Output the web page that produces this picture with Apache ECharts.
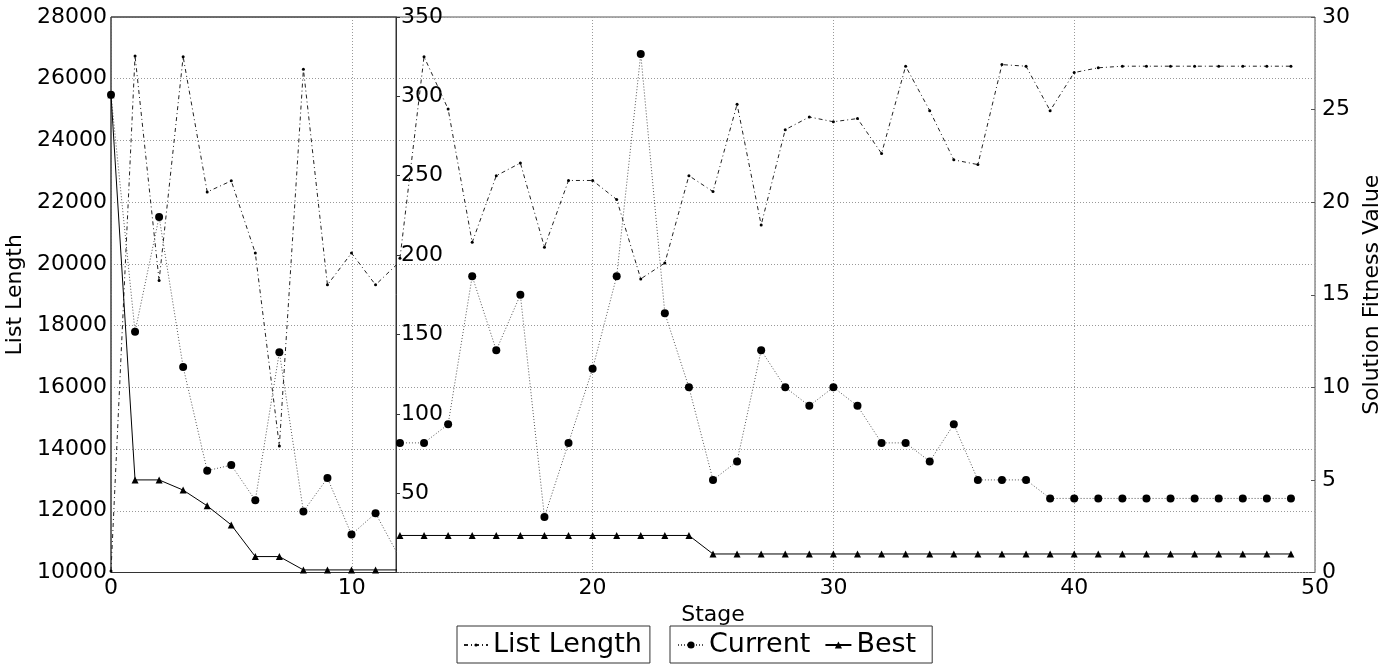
<!DOCTYPE html>
<html>
<head>
<meta charset="utf-8">
<script src="https://cdn.jsdelivr.net/npm/echarts@6/dist/echarts.min.js"></script>
<style>
html,body{margin:0;padding:0;background:#fff;}
#chart{width:1391px;height:667px;}
</style>
</head>
<body>
<div id="chart"></div>
<script>
// ---- data ----
const insetStages = [0,1,2,3,4,5,6,7,8,9,10,11,12];
const insetListLength = [10050,26740,19460,26710,22330,22690,20350,14100,26310,19320,20350,19320,20070];
const insetCurrent = [25.8,13.0,19.2,11.1,5.5,5.8,3.9,11.9,3.3,5.1,2.05,3.2,0.8];
const insetBest = [25.8,5.0,5.0,4.45,3.6,2.57,0.86,0.86,0.14,0.14,0.14,0.14,0.14];

const mainStages = [12,13,14,15,16,17,18,19,20,21,22,23,24,25,26,27,28,29,30,31,32,33,34,35,36,37,38,39,40,41,42,43,44,45,46,47,48,49];
const mainListLength = [198,325,292,208,250,258,205,247,247,235,185,195,250,240,295,219,279,287,284,286,264,319,291,260,257,320,319,291,315,318,319,319,319,319,319,319,319,319];
const mainCurrent = [7,7,8,16,12,15,3,7,11,16,28,14,10,5,6,12,10,9,10,9,7,7,6,8,5,5,5,4,4,4,4,4,4,4,4,4,4,4];
const mainBest = [2,2,2,2,2,2,2,2,2,2,2,2,2,1,1,1,1,1,1,1,1,1,1,1,1,1,1,1,1,1,1,1,1,1,1,1,1,1];

const seriesNames = ['List Length','Current','Best'];
const stageTicks = {min:0, max:50, interval:10};
const listLengthTicks = {min:10000, max:28000, interval:2000};
const innerTicks = {min:0, max:350, interval:50};
const fitnessTicks = {min:0, max:30, interval:5};

// ---- chart ----
const FONT = 'DejaVu Sans';
const pairs = (xs, ys) => xs.map((x,i)=>[x, ys[i]]);
const gridLine = {show:true, lineStyle:{color:'#999', type:[1,2], width:1}};
const plain = v => String(v);
const lbl = {color:'#000', fontSize:22, fontFamily:FONT, formatter:plain};

const styleList = {
  symbol:'circle', symbolSize:3,
  itemStyle:{color:'#000'},
  lineStyle:{color:'#222', width:1, type:[4,3,1,3]}
};
const styleCurrent = {
  symbol:'circle', symbolSize:8,
  itemStyle:{color:'#000'},
  lineStyle:{color:'#555', width:1, type:[1,2]}
};
const styleBest = {
  symbol:'triangle', symbolSize:7,
  itemStyle:{color:'#000'},
  lineStyle:{color:'#000', width:1, type:'solid'}
};

const chart = echarts.init(document.getElementById('chart'), null, {renderer:'canvas'});
chart.setOption({
  animation:false,
  backgroundColor:'#fff',
  textStyle:{fontFamily:FONT},
  grid:[
    {left:111, right:76, top:17, bottom:94.5, containLabel:false, outerBoundsMode:'none',
     show:true, borderColor:'#555', borderWidth:1, backgroundColor:'transparent'},
    {left:111, width:285, top:17, bottom:94.5, containLabel:false, outerBoundsMode:'none',
     show:true, borderColor:'#333', borderWidth:1, backgroundColor:'transparent', z:3}
  ],
  xAxis:[
    {type:'value', gridIndex:0, min:stageTicks.min, max:stageTicks.max, interval:stageTicks.interval,
     name:'Stage', nameLocation:'middle', nameGap:16, nameTextStyle:{color:'#000', fontSize:22, fontFamily:FONT},
     axisLine:{show:false, onZero:false}, axisTick:{show:false},
     axisLabel:Object.assign({margin:5}, lbl), splitLine:gridLine},
    {type:'value', gridIndex:1, min:0, max:11.85, show:false, splitLine:{show:false}}
  ],
  yAxis:[
    {type:'value', gridIndex:0, position:'left', min:listLengthTicks.min, max:listLengthTicks.max, interval:listLengthTicks.interval,
     name:'List Length', nameLocation:'middle', nameGap:79, nameRotate:90,
     nameTextStyle:{color:'#000', fontSize:22, fontFamily:FONT},
     axisLine:{show:false}, axisTick:{show:false},
     axisLabel:Object.assign({margin:4}, lbl), splitLine:gridLine},
    {type:'value', gridIndex:0, position:'right', min:fitnessTicks.min, max:fitnessTicks.max, interval:fitnessTicks.interval,
     name:'Solution Fitness Value', nameLocation:'middle', nameGap:23, nameRotate:90,
     nameTextStyle:{color:'#000', fontSize:22, fontFamily:FONT},
     axisLine:{show:false}, axisTick:{show:true, inside:true, length:4, lineStyle:{color:'#555'}},
     axisLabel:Object.assign({margin:7}, lbl), splitLine:{show:false}},
    {type:'value', gridIndex:0, position:'left', offset:-285, min:innerTicks.min, max:innerTicks.max, interval:innerTicks.interval,
     axisLine:{show:true, lineStyle:{color:'#333', width:1}}, axisTick:{show:true, inside:true, length:4, lineStyle:{color:'#333'}},
     axisLabel:Object.assign({inside:true, margin:5, showMinLabel:false}, lbl), splitLine:{show:false}},
    {type:'value', gridIndex:1, min:listLengthTicks.min, max:listLengthTicks.max, show:false, splitLine:{show:false}},
    {type:'value', gridIndex:1, min:fitnessTicks.min, max:fitnessTicks.max, show:false, splitLine:{show:false}}
  ],
  legend:[
    {data:[seriesNames[0]], left:457, top:626, orient:'horizontal',
     borderColor:'#333', borderWidth:1, padding:[4,8,3,6], itemWidth:24, itemHeight:4,
     textStyle:{color:'#000', fontSize:27, fontFamily:FONT, lineHeight:30}},
    {data:[seriesNames[1], seriesNames[2]], left:670, top:626, orient:'horizontal', itemGap:14,
     borderColor:'#333', borderWidth:1, padding:[4,16,3,7], itemWidth:26, itemHeight:9,
     textStyle:{color:'#000', fontSize:27, fontFamily:FONT, lineHeight:30}}
  ],
  series:[
    Object.assign({type:'line', name:seriesNames[0], xAxisIndex:0, yAxisIndex:2, data:pairs(mainStages, mainListLength), z:4}, styleList),
    Object.assign({type:'line', name:seriesNames[1], xAxisIndex:0, yAxisIndex:1, data:pairs(mainStages, mainCurrent), z:4}, styleCurrent),
    Object.assign({type:'line', name:seriesNames[2], xAxisIndex:0, yAxisIndex:1, data:pairs(mainStages, mainBest), z:4}, styleBest),
    Object.assign({type:'line', name:seriesNames[0], xAxisIndex:1, yAxisIndex:3, data:pairs(insetStages, insetListLength), clip:true, z:4}, styleList),
    Object.assign({type:'line', name:seriesNames[1], xAxisIndex:1, yAxisIndex:4, data:pairs(insetStages, insetCurrent), clip:true, z:4}, styleCurrent),
    Object.assign({type:'line', name:seriesNames[2], xAxisIndex:1, yAxisIndex:4, data:pairs(insetStages, insetBest), clip:true, z:4}, styleBest)
  ]
});
</script>
</body>
</html>
